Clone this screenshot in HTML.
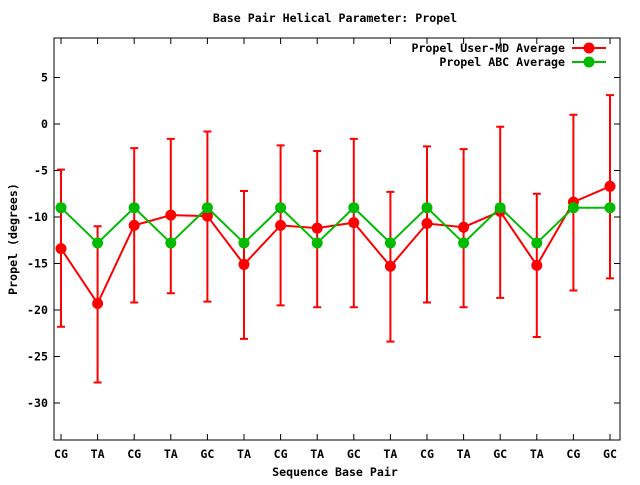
<!DOCTYPE html>
<html><head><meta charset="utf-8"><style>
html,body{margin:0;padding:0;background:#fff;}
svg text{font-family:"DejaVu Sans Mono","Liberation Mono",monospace;font-size:11.6px;font-weight:bold;fill:#000;}
</style></head><body>
<svg id="chart" width="640" height="480" viewBox="0 0 640 480" xmlns="http://www.w3.org/2000/svg">
<text x="335" y="22" text-anchor="middle">Base Pair Helical Parameter: Propel</text>
<text x="335" y="476" text-anchor="middle">Sequence Base Pair</text>
<text transform="translate(17,239) rotate(-90)" text-anchor="middle">Propel (degrees)</text>
<g id="axes"></g>
<g id="series"></g>
<g>
<text x="565" y="52" text-anchor="end">Propel User-MD Average</text>
<line x1="572" y1="48" x2="606" y2="48" stroke="#f00" stroke-width="2"/>
<circle cx="589" cy="48" r="5.5" fill="#f00"/>
<text x="565" y="66" text-anchor="end">Propel ABC Average</text>
<line x1="572" y1="62" x2="606" y2="62" stroke="#0b0" stroke-width="2"/>
<circle cx="589" cy="62" r="5.5" fill="#0b0"/>
</g>
</svg>
<script>
const categories=["CG","TA","CG","TA","GC","TA","CG","TA","GC","TA","CG","TA","GC","TA","CG","GC"];
const mdValues=[-13.4,-19.3,-10.9,-9.8,-9.9,-15.1,-10.9,-11.2,-10.6,-15.3,-10.7,-11.1,-9.4,-15.2,-8.4,-6.7];
const mdUpper=[-4.9,-11.0,-2.6,-1.6,-0.8,-7.2,-2.3,-2.9,-1.6,-7.3,-2.4,-2.7,-0.3,-7.5,1.0,3.1];
const mdLower=[-21.8,-27.8,-19.2,-18.2,-19.1,-23.1,-19.5,-19.7,-19.7,-23.4,-19.2,-19.7,-18.7,-22.9,-17.9,-16.6];
const abcValues=[-9,-12.8,-9,-12.8,-9,-12.8,-9,-12.8,-9,-12.8,-9,-12.8,-9,-12.8,-9,-9];
const yTicks=[5,0,-5,-10,-15,-20,-25,-30];
const L=54,R=620,T=38,B=440;
const X=i=>61+i*(610-61)/(categories.length-1);
const Y=v=>124-v*9.3;
const NS="http://www.w3.org/2000/svg";
const axes=document.getElementById('axes'),ser=document.getElementById('series');
function mk(p,tag,a){const e=document.createElementNS(NS,tag);for(const k in a)e.setAttribute(k,a[k]);p.appendChild(e);return e;}
let fr=mk(axes,'rect',{x:L,y:T,width:R-L,height:B-T,fill:'none',stroke:'#000','stroke-width':1});


yTicks.forEach(v=>{const y=Y(v);
 let t=mk(axes,'path',{d:`M${L} ${y}h6M${R} ${y}h-6`,stroke:'#000'});
 
 
 let tx=mk(axes,'text',{x:L-6,y:y+4,'text-anchor':'end'});tx.textContent=v;
 
 
});
categories.forEach((c,i)=>{const x=X(i);
 let t=mk(axes,'path',{d:`M${x} ${B}v-6M${x} ${T}v6`,stroke:'#000'});
 
 
 let tx=mk(axes,'text',{x:x,y:B+18,'text-anchor':'middle'});tx.textContent=c;
 
 
});
categories.forEach((c,i)=>{const x=X(i),y1=Y(mdUpper[i]),y2=Y(mdLower[i]);
 let e=mk(ser,'path',{d:`M${x} ${y1}V${y2}M${x-4} ${y1}h8M${x-4} ${y2}h8`,stroke:'#f00','stroke-width':2,fill:'none'});
 
 
});
function line(vals,col,name){
 let p=mk(ser,'polyline',{points:vals.map((v,i)=>X(i)+','+Y(v)).join(' '),fill:'none',stroke:col,'stroke-width':2});
 
 
 vals.forEach((v,i)=>{let c=mk(ser,'circle',{cx:X(i),cy:Y(v),r:5.5,fill:col});
  
  });
}
line(mdValues,'#f00','md');
line(abcValues,'#0b0','abc');
</script>
</body></html>
